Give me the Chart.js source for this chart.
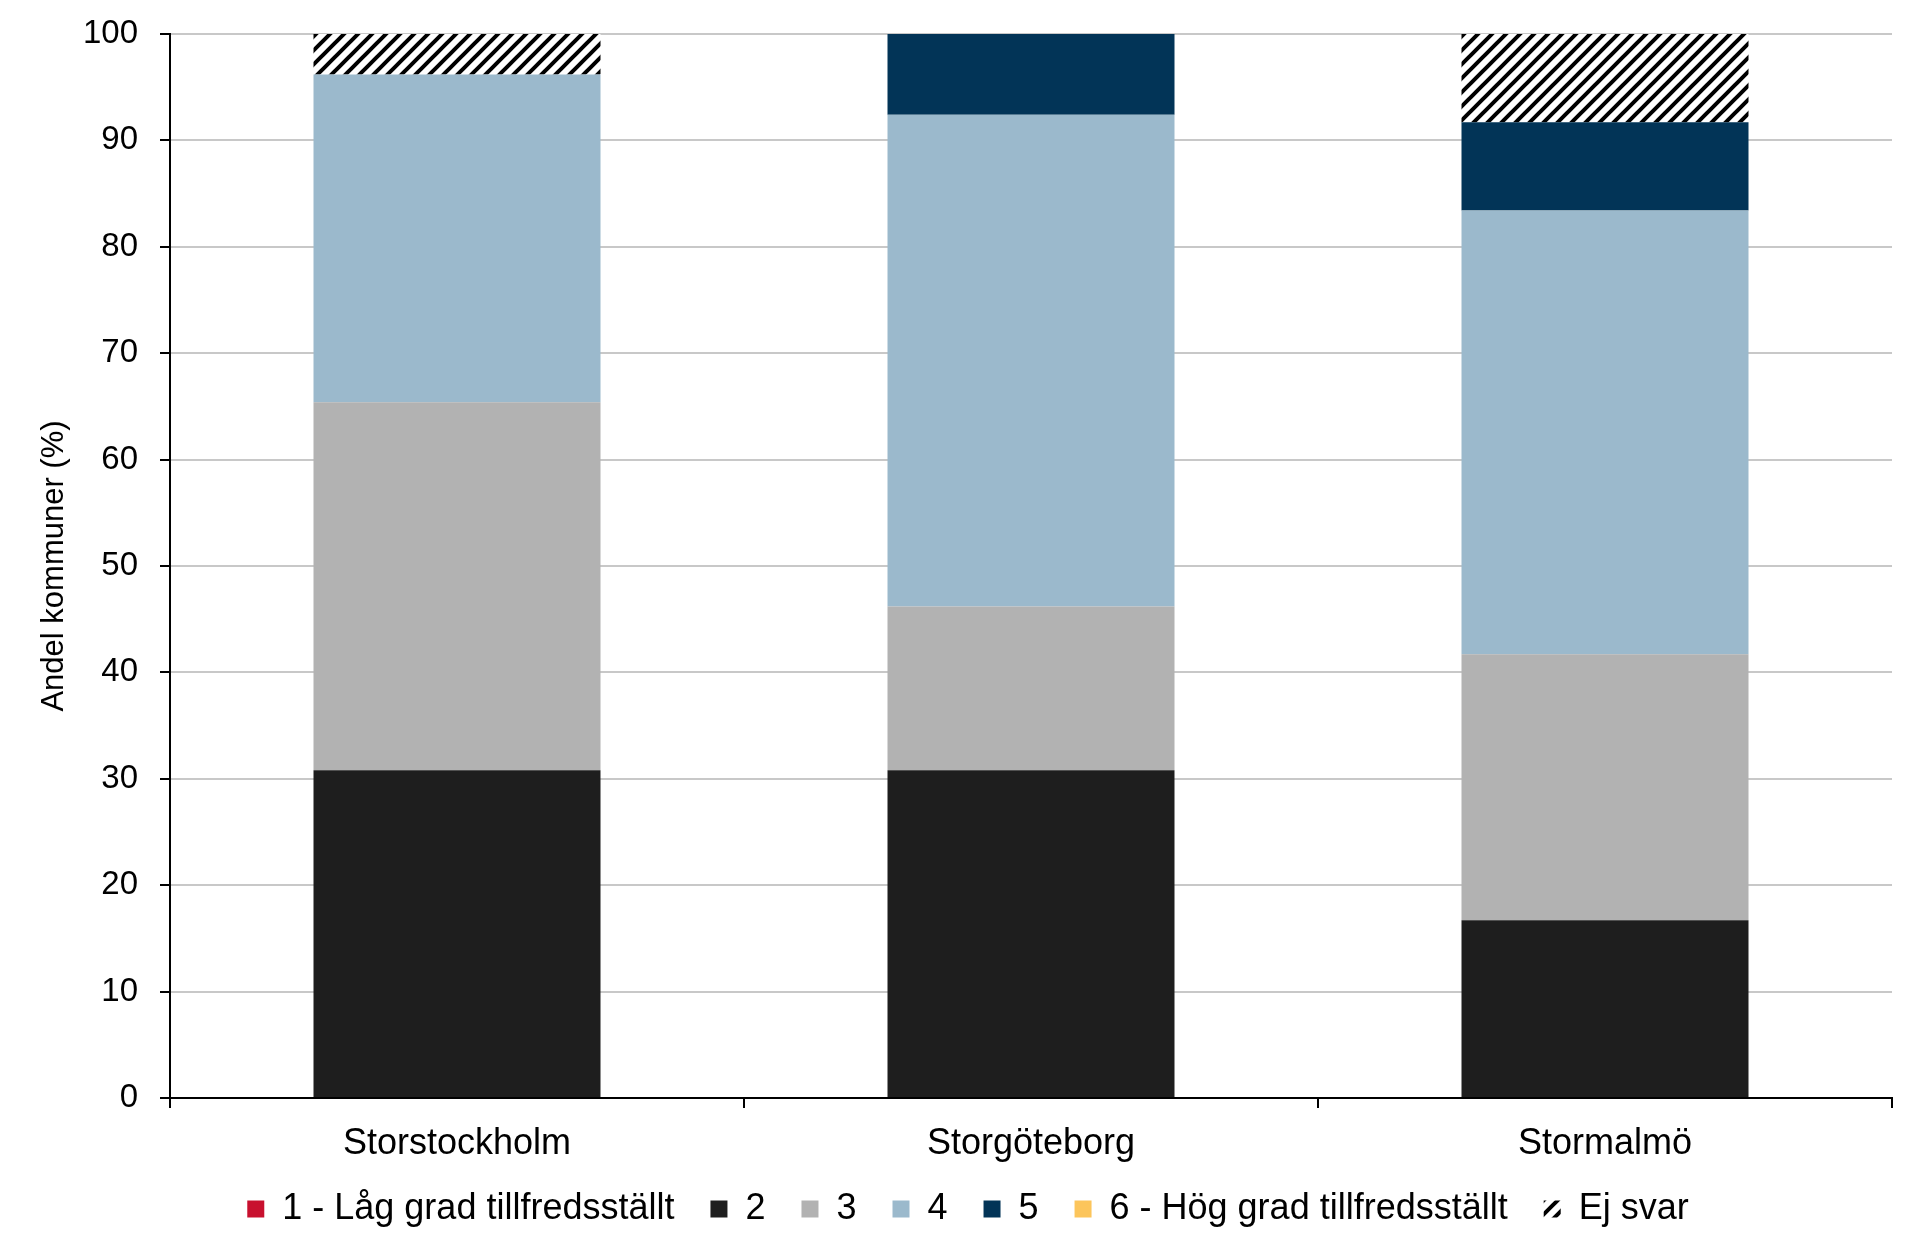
<!DOCTYPE html>
<html>
<head>
<meta charset="utf-8">
<script src="https://cdn.jsdelivr.net/npm/chart.js@4"></script>
<style>
  html, body { margin: 0; padding: 0; background: #fff; }
  #wrap { width: 1920px; height: 1249px; }
</style>
</head>
<body>
<div id="wrap"><canvas id="chart" width="1920" height="1249"></canvas></div>
<script>
const categories = ['Storstockholm', 'Storgöteborg', 'Stormalmö'];
const seriesNames = ['1 - Låg grad tillfredsställt', '2', '3', '4', '5', '6 - Hög grad tillfredsställt', 'Ej svar'];
const lag = [0, 0, 0];
const v2 = [30.8, 30.8, 16.7];
const v3 = [34.6, 15.4, 25.0];
const v4 = [30.8, 46.2, 41.7];
const v5 = [0, 7.7, 8.3];
const hog = [0, 0, 0];
const ejSvar = [3.8, 0, 8.3];
const yTicks = [0, 10, 20, 30, 40, 50, 60, 70, 80, 90, 100];

const FONT = "'Liberation Sans', Arial, sans-serif";

// diagonal hatch for "Ej svar"
function hatch() {
  const s = 14;
  const c = document.createElement('canvas');
  c.width = s; c.height = s;
  const g = c.getContext('2d');
  g.fillStyle = '#fff';
  g.fillRect(0, 0, s, s);
  g.strokeStyle = '#000';
  g.lineWidth = 4;
  g.beginPath();
  g.moveTo(-2, s + 2); g.lineTo(s + 2, -2);
  g.moveTo(-2, 2); g.lineTo(2, -2);
  g.moveTo(s - 2, s + 2); g.lineTo(s + 2, s - 2);
  g.stroke();
  return g.createPattern(c, 'repeat');
}

const colors = ['#c8102e', '#1e1e1e', '#b2b2b2', '#9bb9cc', '#023457', '#fcc55b', hatch()];
const values = [lag, v2, v3, v4, v5, hog, ejSvar];

// nudge legend a bit right, and let x labels draw past the squeezed axis box
const layoutTweaks = {
  id: 'layoutTweaks',
  afterLayout(chart) {
    chart.legend.left += 22;
    chart.legend.right += 22;
    chart.scales.x.bottom += 40;
  }
};

const ctx = document.getElementById('chart').getContext('2d');
new Chart(ctx, {
  type: 'bar',
  data: {
    labels: categories,
    datasets: seriesNames.map((name, i) => ({
      label: name,
      data: values[i],
      backgroundColor: colors[i],
      borderWidth: 0,
      categoryPercentage: 1,
      barPercentage: 0.5
    }))
  },
  plugins: [layoutTweaks],
  options: {
    responsive: false,
    animation: false,
    layout: { padding: { left: 0, right: 28, top: 34, bottom: 12 } },
    plugins: {
      tooltip: { enabled: false },
      legend: {
        position: 'bottom',
        labels: {
          color: '#000',
          font: { family: FONT, size: 36 },
          boxWidth: 17,
          boxHeight: 17,
          padding: 36
        }
      }
    },
    scales: {
      x: {
        stacked: true,
        afterFit: s => { s.height = 57; },
        border: { color: '#000', width: 2 },
        grid: { offset: true, drawOnChartArea: false, color: '#000', tickLength: 10, lineWidth: 2 },
        ticks: { color: '#000', font: { family: FONT, size: 36 }, padding: 14 }
      },
      y: {
        stacked: true,
        min: 0,
        max: 100,
        afterFit: s => { s.width = 170; s.paddingTop = 0; s.paddingBottom = 0; },
        afterBuildTicks: s => { s.ticks = yTicks.map(v => ({ value: v })); },
        border: { color: '#000', width: 2 },
        grid: { color: '#c8c8c8', lineWidth: 2, tickColor: '#000', tickLength: 10 },
        ticks: { color: '#000', font: { family: FONT, size: 33 }, padding: 22 },
        title: {
          display: true,
          text: 'Andel kommuner (%)',
          color: '#000',
          font: { family: FONT, size: 31 },
          padding: { top: 36, bottom: 0 }
        }
      }
    }
  }
});
</script>
</body>
</html>
